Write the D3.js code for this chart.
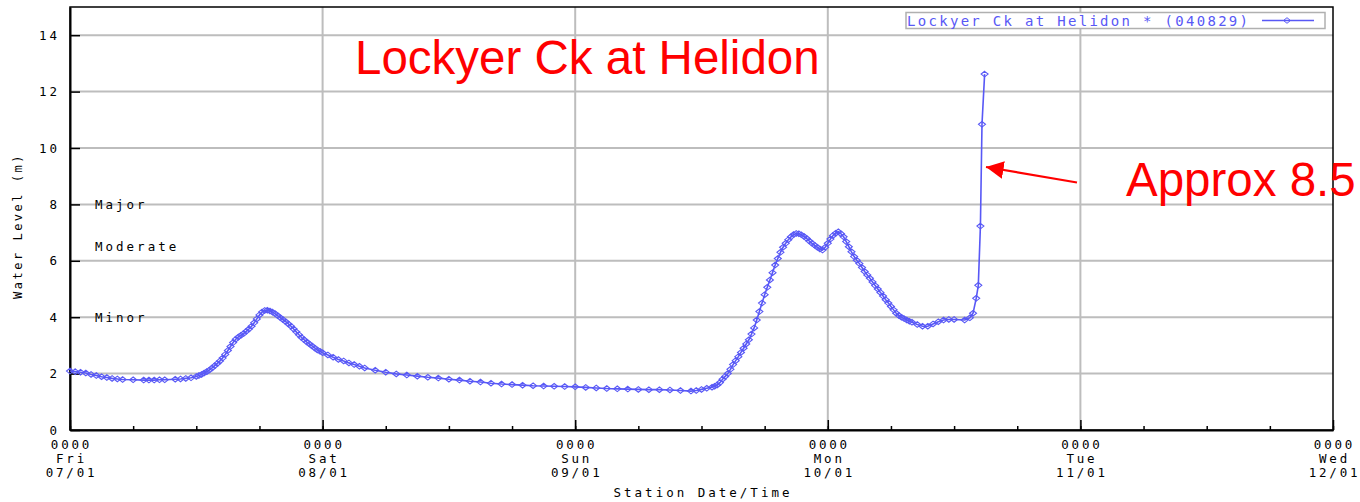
<!DOCTYPE html>
<html lang="en">
<head>
<meta charset="utf-8">
<script src="https://d3js.org/d3.v7.min.js"></script>
<style>
  body { margin: 0; background: #fff; }
  .mono { font-family: "DejaVu Sans Mono", monospace; }
</style>
</head>
<body>
<script>
// hours since 0000 Fri 07/01 and water level (m)
var hours = [0, 0.5, 1, 1.5, 2, 2.5, 3, 3.5, 4, 4.5, 5, 6, 7, 7.5, 8, 8.5, 9, 10, 10.5, 11, 11.5,
  12, 12.25, 12.5, 12.75, 13, 13.25, 13.5, 13.75, 14, 14.25, 14.5, 14.75, 15, 15.25, 15.5, 15.75,
  16, 16.25, 16.5, 16.75, 17, 17.25, 17.5, 17.75, 18, 18.25, 18.5, 18.75, 19, 19.25, 19.5, 19.75,
  20, 20.25, 20.5, 20.75, 21, 21.25, 21.5, 21.75, 22, 22.25, 22.5, 22.75, 23, 23.25, 23.5, 23.75,
  24, 24.5, 25, 25.5, 26, 26.5, 27, 27.5, 28, 29, 30, 31, 32, 33, 34, 35, 36, 37,
  38, 39, 40, 41, 42, 43, 44, 45, 46, 47, 48, 49, 50, 51, 52, 53, 54, 55, 56, 57, 58, 59, 59.5, 60, 60.5,
  61, 61.25, 61.5, 61.75, 62, 62.25, 62.5, 62.75, 63, 63.25, 63.5, 63.75, 64, 64.25, 64.5, 64.75,
  65, 65.25, 65.5, 65.75, 66, 66.25, 66.5, 66.75, 67, 67.25, 67.5, 67.75, 68, 68.25, 68.5, 68.75,
  69, 69.25, 69.5, 69.75, 70, 70.25, 70.5, 70.75, 71, 71.25, 71.5, 71.75, 72, 72.25, 72.5, 72.75,
  73, 73.25, 73.5, 73.75, 74, 74.25, 74.5, 74.75, 75, 75.25, 75.5, 75.75, 76, 76.25, 76.5, 76.75,
  77, 77.25, 77.5, 77.75, 78, 78.25, 78.5, 78.75, 79, 79.25, 79.5, 79.75, 80,
  80.5, 81, 81.5, 82, 82.5, 83, 83.5, 84, 85, 85.5, 85.8, 86.1, 86.3, 86.5, 86.65, 86.9];
var levels = [2.09, 2.07, 2.05, 2.02, 1.97, 1.93, 1.89, 1.86, 1.83, 1.81, 1.79, 1.78, 1.77, 1.77, 1.77, 1.78, 1.78, 1.80, 1.81, 1.83, 1.85,
  1.90, 1.93, 1.97, 2.02, 2.07, 2.13, 2.20, 2.28, 2.36, 2.45, 2.55, 2.68, 2.82, 2.96, 3.10, 3.22,
  3.30, 3.36, 3.42, 3.50, 3.58, 3.68, 3.80, 3.94, 4.08, 4.18, 4.24, 4.25, 4.22, 4.18, 4.12, 4.05,
  3.98, 3.91, 3.84, 3.76, 3.68, 3.58, 3.48, 3.38, 3.28, 3.20, 3.12, 3.05, 2.98, 2.91, 2.84, 2.79,
  2.74, 2.66, 2.58, 2.50, 2.45, 2.38, 2.32, 2.26, 2.20, 2.12, 2.05, 1.99, 1.95, 1.91, 1.87, 1.84, 1.80, 1.77,
  1.73, 1.70, 1.66, 1.63, 1.61, 1.59, 1.57, 1.56, 1.55, 1.54, 1.53, 1.51, 1.49, 1.47, 1.46, 1.45, 1.44, 1.43, 1.43, 1.42, 1.40, 1.38, 1.40, 1.44, 1.48,
  1.52, 1.55, 1.60, 1.68, 1.80, 1.90, 2.00, 2.15, 2.32, 2.46, 2.60, 2.75, 2.90, 3.05, 3.20, 3.40,
  3.62, 3.90, 4.20, 4.50, 4.80, 5.06, 5.32, 5.58, 5.85, 6.08, 6.30, 6.48, 6.62, 6.75, 6.85, 6.93,
  6.97, 6.96, 6.92, 6.86, 6.79, 6.70, 6.62, 6.55, 6.48, 6.42, 6.38, 6.48, 6.62, 6.77, 6.90, 6.98,
  7.03, 6.96, 6.85, 6.68, 6.50, 6.32, 6.15, 6.02, 5.90, 5.76, 5.62, 5.50, 5.38, 5.25, 5.12, 5.00,
  4.88, 4.75, 4.62, 4.50, 4.38, 4.26, 4.14, 4.06, 4.00, 3.95, 3.90, 3.86, 3.82,
  3.74, 3.68, 3.68, 3.76, 3.84, 3.90, 3.92, 3.92, 3.90, 3.98, 4.14, 4.67, 5.13, 7.23, 10.84, 12.62];

var yTicks = [0, 2, 4, 6, 8, 10, 12, 14];
var floodNames = ["Major", "Moderate", "Minor"];
var floodLevels = [8, 6.5, 4];
var seriesName = "Lockyer Ck at Helidon * (040829)";

var width = 1360, height = 502;
var plotL = 70, plotR = 1333, plotT = 7, plotB = 430;
var blue = "#5858f6";

var start = new Date(2011, 0, 7);
var end = d3.timeDay.offset(start, 5);
var data = hours.map(function(h, i) {
  return { t: d3.timeMinute.offset(start, Math.round(h * 60)), v: levels[i] };
});

var x = d3.scaleTime().domain([start, end]).range([plotL, plotR]);
var y = d3.scaleLinear().domain([0, 15]).range([plotB, plotT]);

var svg = d3.select("body").append("svg")
  .attr("width", width)
  .attr("height", height);

// grid
svg.append("g").selectAll("line")
  .data(yTicks.filter(function(d) { return d > 0; }))
  .enter().append("line")
  .attr("x1", plotL).attr("x2", plotR)
  .attr("y1", function(d) { return y(d); })
  .attr("y2", function(d) { return y(d); })
  .attr("stroke", "#bdbdbd").attr("stroke-width", 2);

var days = d3.timeDay.range(start, end).slice(1);
svg.append("g").selectAll("line")
  .data(days)
  .enter().append("line")
  .attr("x1", function(d) { return x(d); })
  .attr("x2", function(d) { return x(d); })
  .attr("y1", plotT).attr("y2", plotB)
  .attr("stroke", "#bdbdbd").attr("stroke-width", 2);

// frame
svg.append("rect")
  .attr("x", plotL).attr("y", plotT)
  .attr("width", plotR - plotL).attr("height", plotB - plotT)
  .attr("fill", "none").attr("stroke", "#000").attr("stroke-width", 1.5);

// y axis
var yAxis = svg.append("g")
  .attr("transform", "translate(" + plotL + ",0)")
  .call(d3.axisLeft(y).tickValues(yTicks).tickSize(-10).tickSizeOuter(0).tickPadding(10));
yAxis.select(".domain").attr("stroke-width", 2);
yAxis.selectAll("line").attr("stroke-width", 1.5);
yAxis.selectAll("text")
  .attr("class", "mono")
  .style("font-size", "12.5px")
  .style("letter-spacing", "3px")
  .attr("fill", "#000");

// x axis, minor ticks every 6 hours
var minor = svg.append("g")
  .attr("transform", "translate(0," + plotB + ")")
  .call(d3.axisBottom(x).ticks(d3.timeHour.every(6)).tickSize(-4).tickSizeOuter(0).tickFormat(""));
minor.selectAll("line").attr("stroke-width", 1.5);

var xAxis = svg.append("g")
  .attr("transform", "translate(0," + plotB + ")")
  .call(d3.axisBottom(x).ticks(d3.timeDay.every(1)).tickSize(-10).tickSizeOuter(0).tickFormat(""));
xAxis.select(".domain").attr("stroke-width", 2);
xAxis.selectAll("line").attr("stroke-width", 1.5);

var fmt = [d3.timeFormat("%H%M"), d3.timeFormat("%a"), d3.timeFormat("%d/%m")];
var dayTicks = d3.timeDay.range(start, d3.timeDay.offset(end, 1));
var lab = svg.append("g").selectAll("text")
  .data(dayTicks)
  .enter().append("text")
  .attr("class", "mono")
  .attr("text-anchor", "middle")
  .style("font-size", "12.5px")
  .style("letter-spacing", "2.8px");
fmt.forEach(function(f, k) {
  lab.append("tspan")
    .attr("x", function(d) { return x(d) + 1.5; })
    .attr("y", 449 + k * 14)
    .text(function(d) { return f(d); });
});

// axis titles
svg.append("text")
  .attr("class", "mono")
  .attr("text-anchor", "middle")
  .attr("x", 703).attr("y", 497)
  .style("font-size", "12.5px").style("letter-spacing", "3px")
  .text("Station Date/Time");

svg.append("text")
  .attr("class", "mono")
  .attr("text-anchor", "middle")
  .attr("transform", "translate(22,226) rotate(-90)")
  .style("font-size", "12px").style("letter-spacing", "2.5px")
  .text("Water Level (m)");

// flood classification labels
svg.append("g").selectAll("text")
  .data(floodLevels)
  .enter().append("text")
  .attr("class", "mono")
  .attr("x", 95)
  .attr("y", function(d) { return y(d) + 4.5; })
  .style("font-size", "12.5px").style("letter-spacing", "3px")
  .text(function(d, i) { return floodNames[i]; });

// series
svg.append("path")
  .datum(data)
  .attr("fill", "none")
  .attr("stroke", blue)
  .attr("stroke-width", 1.6)
  .attr("d", d3.line().x(function(d) { return x(d.t); }).y(function(d) { return y(d.v); }));

var diamond = "M0,-2.8L3.5,0L0,2.8L-3.5,0Z";
svg.append("g").selectAll("path")
  .data(data)
  .enter().append("path")
  .attr("d", diamond)
  .attr("transform", function(d) { return "translate(" + x(d.t) + "," + y(d.v) + ")"; })
  .attr("fill", "none")
  .attr("stroke", blue)
  .attr("stroke-width", 1.1);

// legend
var leg = svg.append("g");
leg.append("rect")
  .attr("x", 906).attr("y", 12.5)
  .attr("width", 419).attr("height", 16)
  .attr("fill", "#fff").attr("stroke", "#b0b0b0").attr("stroke-width", 1.5);
leg.append("text")
  .attr("class", "mono")
  .attr("x", 907).attr("y", 25.5)
  .attr("fill", blue)
  .style("font-size", "14px").style("letter-spacing", "2.3px")
  .text(seriesName);
leg.append("line")
  .attr("x1", 1262).attr("x2", 1314).attr("y1", 20.5).attr("y2", 20.5)
  .attr("stroke", blue).attr("stroke-width", 1.5);
leg.append("path")
  .attr("d", diamond)
  .attr("transform", "translate(1287,20.5)")
  .attr("fill", "none").attr("stroke", blue);

// annotations
svg.append("text")
  .attr("x", 355).attr("y", 74)
  .attr("fill", "#ff0000")
  .style("font-family", "Liberation Sans, Arial, sans-serif")
  .style("font-size", "47.5px")
  .text("Lockyer Ck at Helidon");

svg.append("text")
  .attr("x", 1126).attr("y", 196)
  .attr("fill", "#ff0000")
  .style("font-family", "Liberation Sans, Arial, sans-serif")
  .style("font-size", "47.5px")
  .text("Approx 8.5");

svg.append("defs").append("marker")
  .attr("id", "head")
  .attr("viewBox", "0 0 10 10")
  .attr("refX", 10).attr("refY", 5)
  .attr("markerWidth", 8).attr("markerHeight", 8)
  .attr("markerUnits", "strokeWidth")
  .attr("orient", "auto")
  .append("path").attr("d", "M0,0L10,5L0,10Z").attr("fill", "#ff0000");

svg.append("line")
  .attr("x1", 1077).attr("y1", 182.5)
  .attr("x2", 986).attr("y2", 167)
  .attr("stroke", "#ff0000").attr("stroke-width", 2.2)
  .attr("marker-end", "url(#head)");
</script>
</body>
</html>
